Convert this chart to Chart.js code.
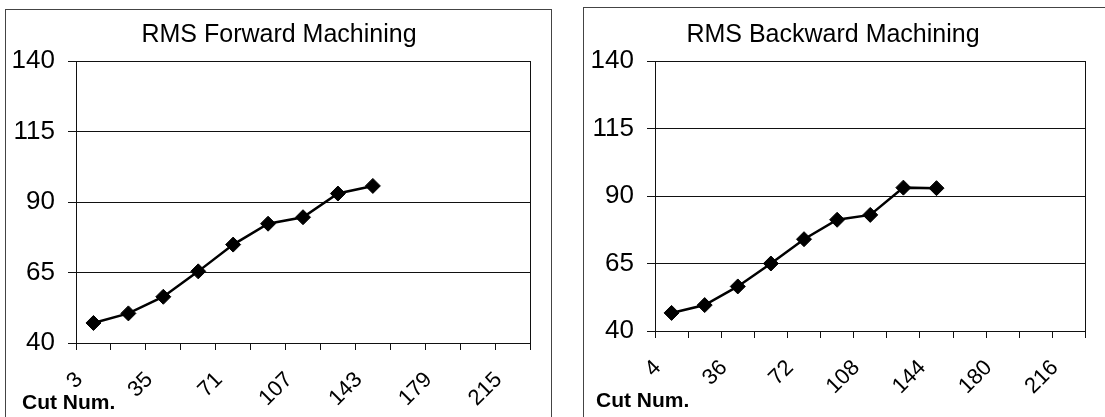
<!DOCTYPE html>
<html>
<head>
<meta charset="utf-8">
<title>RMS Machining</title>
<script src="https://cdn.jsdelivr.net/npm/chart.js@4/dist/chart.umd.min.js"></script>
<style>
  html, body { margin: 0; padding: 0; background: #fff; }
  #page { position: relative; width: 1105px; height: 417px; overflow: hidden; background: #fff; }
  .box { position: absolute; border: 1px solid #444; box-sizing: border-box; }
  canvas { position: absolute; }
</style>
</head>
<body>
<div id="page">
  <div class="box" style="left:5px; top:9px; width:547px; height:430px;"></div>
  <div class="box" style="left:583px; top:7px; width:560px; height:430px;"></div>
  <canvas id="fwd" width="546" height="408" style="left:5px; top:9px;"></canvas>
  <canvas id="bwd" width="522" height="410" style="left:583px; top:7px;"></canvas>
</div>
<script>
// Cut numbers along the x axis (every second category carries a label)
const forwardCuts  = ['3', '', '35', '', '71', '', '107', '', '143', '', '179', '', '215'];
const backwardCuts = ['4', '', '36', '', '72', '', '108', '', '144', '', '180', '', '216'];

// RMS values per cut
const forwardRms  = [47.1, 50.5, 56.4, 65.4, 74.9, 82.3, 84.6, 93.0, 95.7];
const backwardRms = [46.7, 49.6, 56.5, 65.0, 74.0, 81.2, 83.0, 93.1, 92.9];

// Value axis ticks
const rmsTicks = [40, 65, 90, 115, 140];

const captionText = 'Cut Num.';

Chart.defaults.font.family = "'Liberation Sans', Arial, Helvetica, sans-serif";
Chart.defaults.color = '#000';

// Draws the panel heading and the axis caption at fixed spots
const panelText = {
  id: 'panelText',
  afterDraw(chart, args, opts) {
    const ctx = chart.ctx;
    ctx.save();
    ctx.fillStyle = '#000';
    ctx.textBaseline = 'alphabetic';
    ctx.textAlign = 'center';
    ctx.font = "25px 'Liberation Sans', Arial, sans-serif";
    ctx.fillText(opts.title, opts.titleX, opts.titleY);
    ctx.textAlign = 'left';
    ctx.font = "bold 21px 'Liberation Sans', Arial, sans-serif";
    ctx.fillText(opts.caption, opts.captionX, opts.captionY);
    ctx.restore();
  }
};

function makeChart(id, cuts, values, geo) {
  return new Chart(document.getElementById(id), {
    type: 'line',
    data: {
      labels: cuts,
      datasets: [{
        data: values,
        borderColor: '#000',
        borderWidth: 2.5,
        pointStyle: 'rectRot',
        pointRadius: 7.5,
        pointBackgroundColor: '#000',
        pointBorderColor: '#000',
        pointBorderWidth: 1,
        tension: 0,
        fill: false
      }]
    },
    options: {
      responsive: false,
      animation: false,
      events: [],
      layout: { padding: { top: geo.top, right: geo.right, left: 0, bottom: 0 } },
      plugins: {
        legend: { display: false },
        tooltip: { enabled: false },
        title: { display: false },
        panelText: {
          title: geo.title, titleX: geo.titleX, titleY: geo.titleY,
          caption: captionText, captionX: geo.captionX, captionY: geo.captionY
        }
      },
      scales: {
        x: {
          type: 'category',
          offset: true,
          grid: {
            offset: true,
            drawOnChartArea: true,
            color: c => (c.tick ? 'rgba(0,0,0,0)' : '#111'),
            tickColor: '#111',
            tickLength: 7,
            lineWidth: 1
          },
          border: { color: '#111', width: 1 },
          ticks: {
            autoSkip: false,
            maxRotation: 45,
            minRotation: 45,
            labelOffset: geo.labelOffset,
            padding: geo.xPad,
            font: { size: 22 },
            color: '#000'
          },
          afterFit: s => { s.height = geo.xHeight; }
        },
        y: {
          min: 40,
          max: 140,
          afterBuildTicks: s => { s.ticks = rmsTicks.map(v => ({ value: v })); },
          grid: { color: '#111', tickColor: '#111', tickLength: 8, lineWidth: 1 },
          border: { color: '#111', width: 1 },
          ticks: { padding: 13, font: { size: 26 }, color: '#000' },
          afterFit: s => { s.width = geo.yWidth; }
        }
      }
    },
    plugins: [panelText]
  });
}

makeChart('fwd', forwardCuts, forwardRms, {
  title: 'RMS Forward Machining', titleX: 274, titleY: 33,
  captionX: 17, captionY: 400,
  top: 52, right: 21, yWidth: 71, xHeight: 74, labelOffset: -14, xPad: 17
});

makeChart('bwd', backwardCuts, backwardRms, {
  title: 'RMS Backward Machining', titleX: 250, titleY: 35,
  captionX: 13, captionY: 400,
  top: 54, right: 10, yWidth: 72, xHeight: 86, labelOffset: -14, xPad: 17
});
</script>
</body>
</html>
